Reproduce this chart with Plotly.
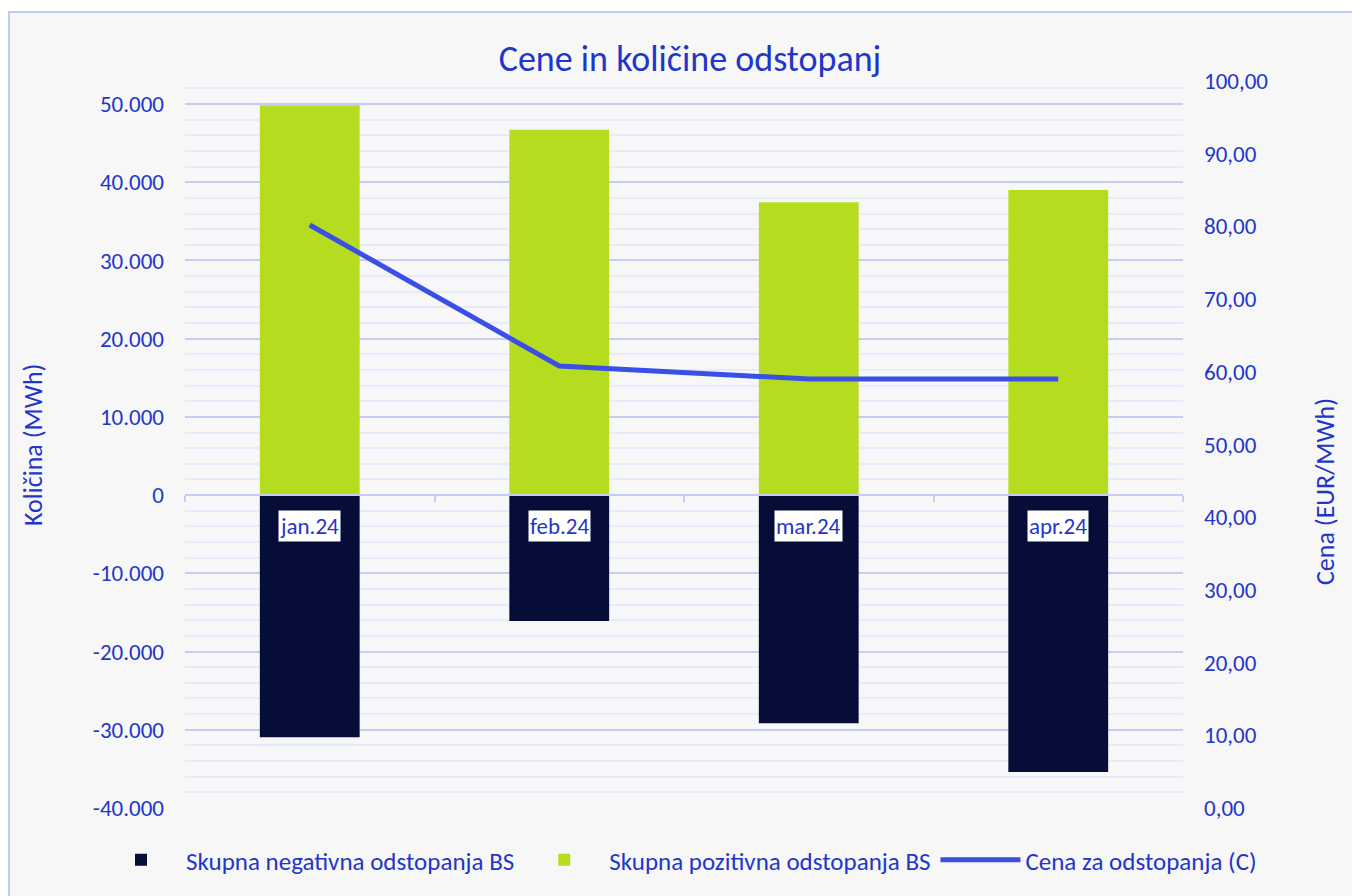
import plotly.graph_objects as go

# ---- data ----
categories = ["jan.24", "feb.24", "mar.24", "apr.24"]
negative = [-30950, -16100, -29150, -35400]
positive = [49850, 46700, 37450, 39000]
price = [80.2, 60.8, 59.0, 59.0]

left_tickvals = [-40000, -30000, -20000, -10000, 0, 10000, 20000, 30000, 40000, 50000]
left_ticktext = ["-40.000", "-30.000", "-20.000", "-10.000", "0", "10.000", "20.000", "30.000", "40.000", "50.000"]
right_tickvals = [0, 10, 20, 30, 40, 50, 60, 70, 80, 90, 100]
right_ticktext = ["0,00", "10,00", "20,00", "30,00", "40,00", "50,00", "60,00", "70,00", "80,00", "90,00", "100,00"]

series_names = ["Skupna negativna odstopanja BS", "Skupna pozitivna odstopanja BS", "Cena za odstopanja (C)"]

# ---- style ----
FONT = "Carlito, Lato, 'Open Sans', sans-serif"
TXT = "#1f36c8"
NAVY = "#060d38"
GREEN = "#b5dc1f"
LINE = "#3a4fe6"
GRID = "#c5cdf7"
MINOR = "#e7eafa"
BG = "#f7f7f7"

Y_MIN, Y_MAX = -40000, 52940
OFF = 8  # page body offset
W, H = 1360 - OFF, 896 - OFF

fig = go.Figure()
fig.add_trace(go.Bar(x=categories, y=negative, name=series_names[0],
                     marker=dict(color=NAVY, line=dict(width=0))))
fig.add_trace(go.Bar(x=categories, y=positive, name=series_names[1],
                     marker=dict(color=GREEN, line=dict(width=0))))
fig.add_trace(go.Scatter(x=categories, y=price, name=series_names[2], mode="lines",
                         line=dict(color=LINE, width=5), yaxis="y2"))

annotations = []
for c in categories:
    annotations.append(dict(x=c, y=0, xref="x", yref="y", text=c, showarrow=False,
                            yanchor="top", yshift=-15, bgcolor="white", borderpad=1,
                            font=dict(family=FONT, size=23, color=TXT)))
annotations.append(dict(x=(33 - 185) / 998, y=(808 - 445) / 727, xref="paper", yref="paper",
                        text="Količina (MWh)", textangle=-90, showarrow=False,
                        xanchor="center", yanchor="middle",
                        font=dict(family=FONT, size=26, color=TXT)))
annotations.append(dict(x=(1325 - 185) / 998, y=(808 - 492) / 727, xref="paper", yref="paper",
                        text="Cena (EUR/MWh)", textangle=-90, showarrow=False,
                        xanchor="center", yanchor="middle",
                        font=dict(family=FONT, size=26, color=TXT)))

fig.update_layout(
    width=W, height=H,
    margin=dict(l=185 - OFF, r=177, t=81 - OFF, b=88, autoexpand=False),
    paper_bgcolor="white",
    plot_bgcolor="rgba(0,0,0,0)",
    barmode="relative",
    bargap=0.6,
    font=dict(family=FONT, size=23, color=TXT),
    title=dict(text="Cene in količine odstopanj", x=(690 - OFF) / W, xanchor="center",
               y=1 - (58 - OFF) / H, yanchor="middle",
               font=dict(family=FONT, size=36, color=TXT)),
    xaxis=dict(anchor="free", position=(0 - Y_MIN) / (Y_MAX - Y_MIN),
               showline=True, linecolor=GRID, linewidth=2,
               ticks="outside", tickson="boundaries", ticklen=6, tickcolor=GRID, tickwidth=2,
               showticklabels=False, showgrid=False, zeroline=False),
    yaxis=dict(range=[Y_MIN, Y_MAX], tickvals=left_tickvals, ticktext=left_ticktext,
               showgrid=True, gridcolor=GRID, gridwidth=2, zeroline=False,
               minor=dict(dtick=2000, tick0=0, showgrid=True, gridcolor=MINOR, gridwidth=2),
               ticks="", ticklabelstandoff=20, showline=False,
               tickfont=dict(family=FONT, size=23, color=TXT)),
    yaxis2=dict(range=[0, 100], overlaying="y", side="right",
                tickvals=right_tickvals, ticktext=right_ticktext,
                showgrid=False, zeroline=False, ticks="", ticklabelstandoff=20,
                tickfont=dict(family=FONT, size=23, color=TXT)),
    legend=dict(orientation="h", x=(96 - 185) / 998, xanchor="left",
                y=(808 - 860) / 727, yanchor="middle",
                font=dict(family=FONT, size=25, color=TXT), bgcolor="rgba(0,0,0,0)",
                itemwidth=80, traceorder="normal"),
    annotations=annotations,
    shapes=[dict(type="rect", xref="paper", yref="paper",
                 x0=(9 - 185) / 998, x1=1.3, y0=-0.3, y1=(808 - 12) / 727,
                 fillcolor=BG, line=dict(color="#c0ccf8", width=2), layer="below")],
    showlegend=True,
)

fig.write_html("out.html")
